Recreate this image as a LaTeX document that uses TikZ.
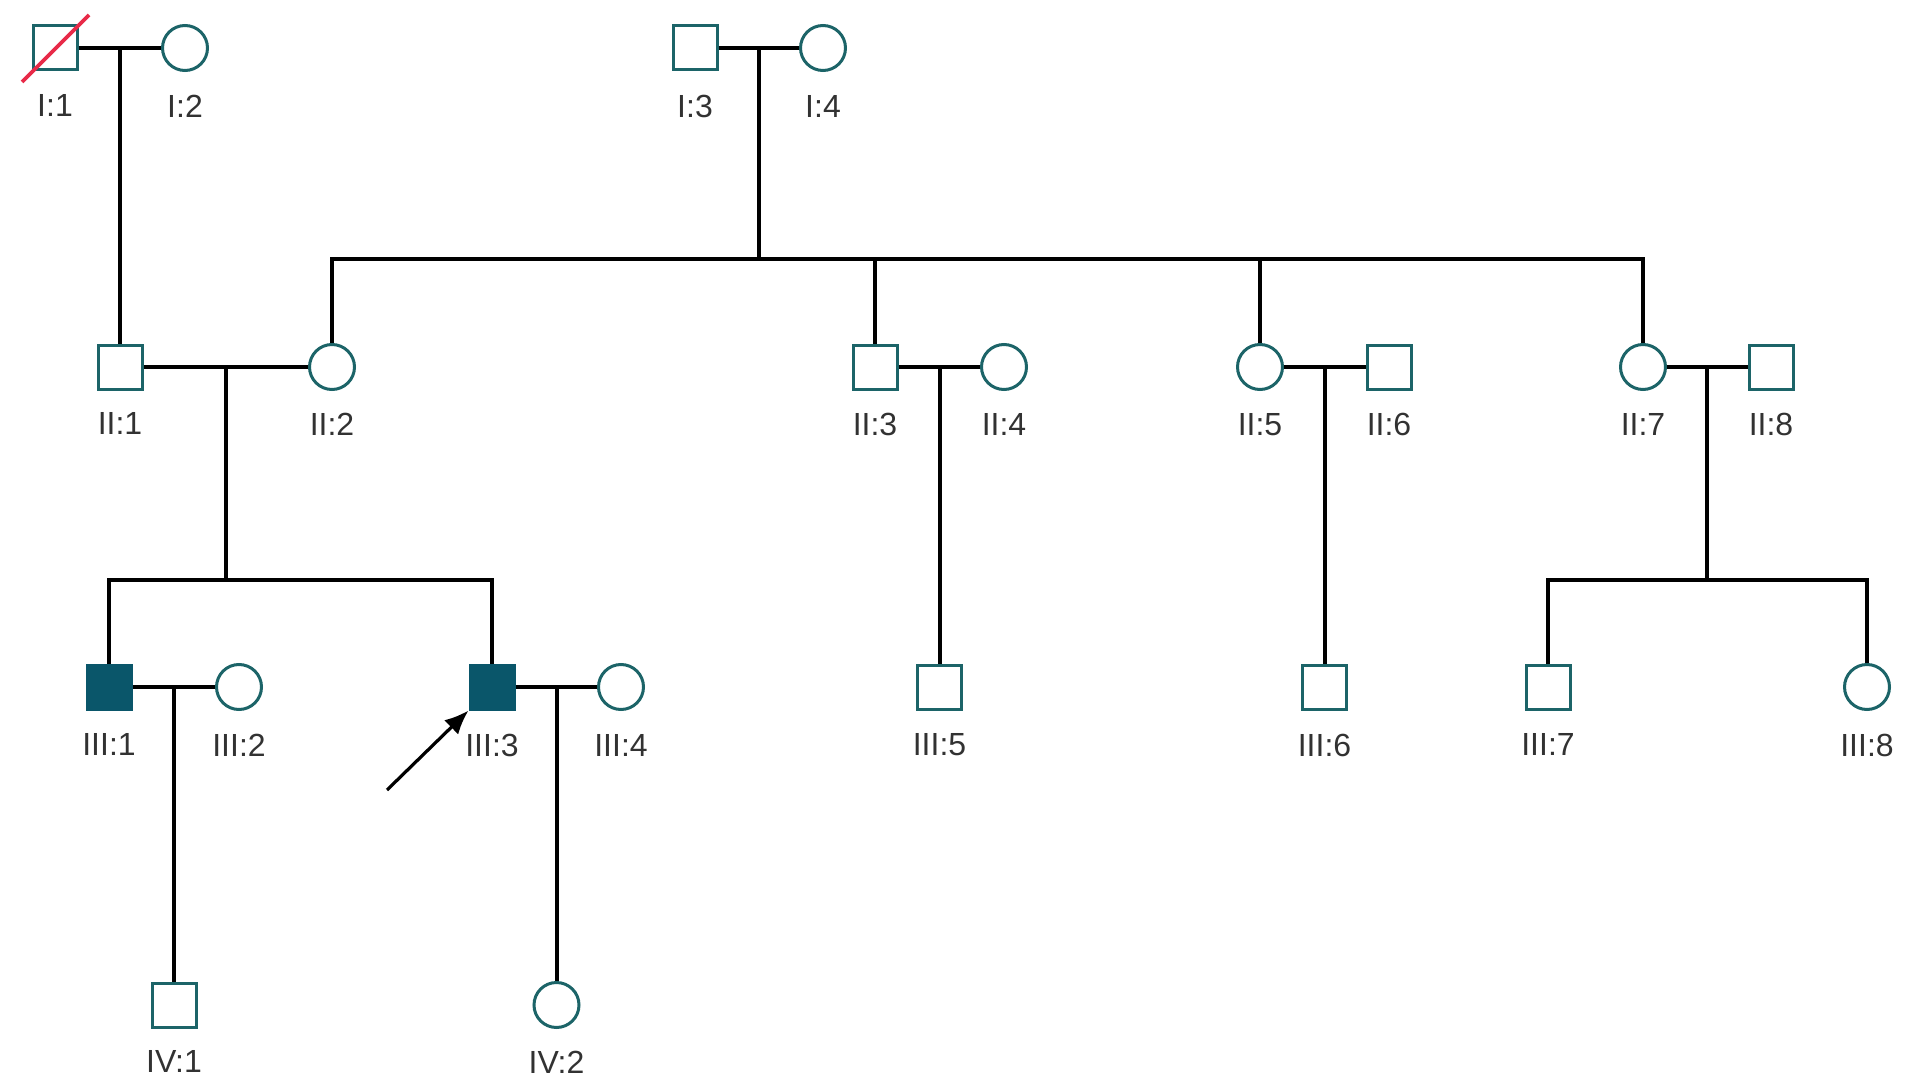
\documentclass[tikz,border=0pt]{standalone}
\usepackage{fontspec}
\setmainfont{Liberation Sans}
\usepackage{tikz}
\usetikzlibrary{arrows.meta,calc,positioning}
\definecolor{pedteal}{RGB}{28,100,104}
\definecolor{affteal}{RGB}{10,86,106}
\definecolor{deadred}{RGB}{232,42,72}
\definecolor{lblgray}{RGB}{50,50,50}

\begin{document}
\begin{tikzpicture}[x=0.5pt,y=-0.5pt,
    male/.style={draw=pedteal,line width=1.5pt,fill=white,minimum size=22pt,inner sep=0pt},
    female/.style={circle,draw=pedteal,line width=1.5pt,fill=white,minimum size=22.5pt,inner sep=0pt},
    affected/.style={male,fill=affteal,draw=affteal},
    lbl/.style={text=lblgray,font=\fontsize{16}{18}\selectfont,inner sep=0pt},
    rel/.style={line width=2pt,black}]
        \useasboundingbox (0,0) rectangle (1913,1086);
        %Generation I
        \node[male] (i1) at (55,48) {};
        \node[female] (i2) at (185,48) {};
        \node[male] (i3) at (695,48) {};
        \node[female] (i4) at (823,48) {};
        %Generation II
        \node[male] (ii1) at (120,367) {};
        \node[female] (ii2) at (332,367) {};
        \node[male] (ii3) at (875,367) {};
        \node[female] (ii4) at (1004,367) {};
        \node[female] (ii5) at (1260,367) {};
        \node[male] (ii6) at (1389,367) {};
        \node[female] (ii7) at (1643,367) {};
        \node[male] (ii8) at (1771,367) {};
        %Generation III
        \node[affected] (iii1) at (109,687) {};
        \node[female] (iii2) at (239,687) {};
        \node[affected] (iii3) at (492,687) {};
        \node[female] (iii4) at (621,687) {};
        \node[male] (iii5) at (939.5,687) {};
        \node[male] (iii6) at (1324.5,687) {};
        \node[male] (iii7) at (1548,687) {};
        \node[female] (iii8) at (1867,687) {};
        %Generation IV
        \node[male] (iv1) at (174,1005) {};
        \node[female] (iv2) at (556.5,1005) {};
        %Labels
        \node[lbl,below=11.5pt of i1] (li1) {I:1};
        \node[lbl,below=11.5pt of i2] (li2) {I:2};
        \node[lbl,below=11.5pt of i3] (li3) {I:3};
        \node[lbl,below=11.5pt of i4] (li4) {I:4};
        \node[lbl,below=11pt of ii1] (lii1) {II:1};
        \node[lbl,below=11pt of ii2] (lii2) {II:2};
        \node[lbl,below=11pt of ii3] (lii3) {II:3};
        \node[lbl,below=11pt of ii4] (lii4) {II:4};
        \node[lbl,below=11pt of ii5] (lii5) {II:5};
        \node[lbl,below=11pt of ii6] (lii6) {II:6};
        \node[lbl,below=11pt of ii7] (lii7) {II:7};
        \node[lbl,below=11pt of ii8] (lii8) {II:8};
        \node[lbl,below=11.5pt of iii1] (liii1) {III:1};
        \node[lbl,below=11.5pt of iii2] (liii2) {III:2};
        \node[lbl,below=11.5pt of iii3] (liii3) {III:3};
        \node[lbl,below=11.5pt of iii4] (liii4) {III:4};
        \node[lbl,below=11.5pt of iii5] (liii5) {III:5};
        \node[lbl,below=11.5pt of iii6] (liii6) {III:6};
        \node[lbl,below=11.5pt of iii7] (liii7) {III:7};
        \node[lbl,below=11.5pt of iii8] (liii8) {III:8};
        \node[lbl,below=11pt of iv1] (liv1) {IV:1};
        \node[lbl,below=11pt of iv2] (liv2) {IV:2};
        %Couples
        \draw[rel] (i1) -- (i2);
        \draw[rel] (i3) -- (i4);
        \draw[rel] (ii1) -- (ii2);
        \draw[rel] (ii3) -- (ii4);
        \draw[rel] (ii5) -- (ii6);
        \draw[rel] (ii7) -- (ii8);
        \draw[rel] (iii1) -- (iii2);
        \draw[rel] (iii3) -- (iii4);
        %Descent
        \coordinate (c12) at ($(i1)!0.5!(i2)$);
        \coordinate (c34) at ($(i3)!0.5!(i4)$);
        \coordinate (cii12) at ($(ii1)!0.5!(ii2)$);
        \coordinate (cii34) at ($(ii3)!0.5!(ii4)$);
        \coordinate (cii56) at ($(ii5)!0.5!(ii6)$);
        \coordinate (cii78) at ($(ii7)!0.5!(ii8)$);
        \coordinate (ciii12) at ($(iii1)!0.5!(iii2)$);
        \coordinate (ciii34) at ($(iii3)!0.5!(iii4)$);
        \coordinate (s34) at (c34 |- 0,259);
        \coordinate (sii12) at (cii12 |- 0,580);
        \coordinate (sii78) at (cii78 |- 0,580);
        \draw[rel] (c12) -- (ii1);
        \draw[rel] (c34) -- (s34);
        \draw[rel] (ii2) -- (ii2 |- s34) -- (ii7 |- s34) -- (ii7);
        \draw[rel] (ii3) -- (ii3 |- s34);
        \draw[rel] (ii5) -- (ii5 |- s34);
        \draw[rel] (cii12) -- (sii12);
        \draw[rel] (iii1) -- (iii1 |- sii12) -- (iii3 |- sii12) -- (iii3);
        \draw[rel] (cii34) -- (iii5);
        \draw[rel] (cii56) -- (iii6);
        \draw[rel] (cii78) -- (sii78);
        \draw[rel] (iii7) -- (iii7 |- sii78) -- (iii8 |- sii78) -- (iii8);
        \draw[rel] (ciii12) -- (iv1);
        \draw[rel] (ciii34) -- (iv2);
        %Deceased
        \draw[deadred, line width=1.8pt] (i1.center) ++(-33,34) -- ++(67,-67);
        %Proband
        \coordinate (pa) at (387,790);
        \draw[line width=1.6pt,-{Latex[length=12pt,width=10pt]}] (pa) -- (iii3.south west);
      \end{tikzpicture}
\end{document}
